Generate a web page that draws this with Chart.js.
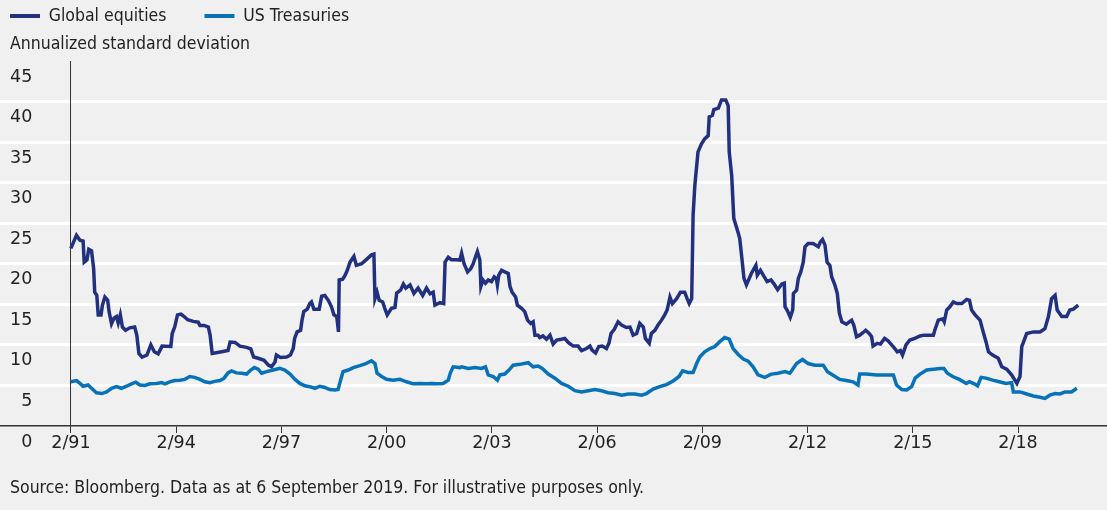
<!DOCTYPE html>
<html>
<head>
<meta charset="utf-8">
<script src="https://cdn.jsdelivr.net/npm/chart.js@4.4.1/dist/chart.umd.min.js"></script>
<style>
  html, body { margin: 0; padding: 0; background: #f0f0f0; }
  #wrap { width: 1107px; height: 510px; position: relative; }
</style>
</head>
<body>
<div id="wrap"><canvas id="c"></canvas></div>
<script>
// ---- Data ----
const seriesNames = ['Global equities', 'US Treasuries'];
const subtitleText = 'Annualized standard deviation';
const sourceText = 'Source: Bloomberg. Data as at 6 September 2019. For illustrative purposes only.';

const tickYears = [1991.083, 1994.083, 1997.083, 2000.083, 2003.083, 2006.083, 2009.083, 2012.083, 2015.083, 2018.083];
const tickLabels = ['2/91', '2/94', '2/97', '2/00', '2/03', '2/06', '2/09', '2/12', '2/15', '2/18'];

const eqYears = [
1991.08,1991.24,1991.34,1991.43,1991.46,1991.54,1991.59,1991.67,1991.73,1991.76,1991.82,1991.86,1991.94,1991.98,
1992.05,1992.13,1992.17,1992.24,1992.31,1992.38,1992.43,1992.49,1992.55,1992.64,1992.76,1992.90,1992.96,
1993.02,1993.11,1993.25,1993.36,1993.46,1993.57,1993.68,1993.93,1993.97,
1994.04,1994.12,1994.22,1994.31,1994.41,1994.57,1994.71,1994.76,1994.88,
1995.00,1995.05,1995.11,1995.38,1995.56,1995.62,1995.76,1995.90,
1996.09,1996.21,1996.29,1996.42,1996.59,1996.71,1996.80,1996.90,1996.94,
1997.06,1997.23,1997.34,1997.42,1997.46,1997.53,1997.63,1997.67,1997.72,1997.82,1997.89,1997.94,
1998.01,1998.16,1998.23,1998.32,1998.42,1998.51,1998.58,1998.66,1998.71,1998.73,1998.83,1998.90,1998.96,
1999.04,1999.15,1999.22,1999.37,1999.55,1999.65,1999.72,1999.75,1999.81,1999.87,1999.97,
2000.03,2000.10,2000.22,2000.32,2000.37,2000.48,2000.56,2000.63,2000.75,2000.86,2000.98,
2001.11,2001.22,2001.32,2001.41,2001.46,2001.60,2001.71,2001.75,2001.84,2001.93,
2002.08,2002.17,2002.22,2002.29,2002.39,2002.48,2002.55,2002.62,2002.67,2002.74,2002.77,2002.83,2002.90,2002.98,
2003.07,2003.15,2003.21,2003.24,2003.28,2003.36,2003.45,2003.55,2003.60,2003.66,2003.76,2003.81,2003.93,
2004.02,2004.10,2004.19,2004.26,2004.31,2004.40,2004.45,2004.54,2004.64,2004.74,2004.83,2004.93,
2005.07,2005.16,2005.26,2005.40,2005.54,2005.64,2005.78,2005.88,2005.94,
2006.04,2006.13,2006.23,2006.35,2006.42,2006.48,2006.57,2006.68,2006.78,2006.92,
2007.02,2007.11,2007.21,2007.30,2007.40,2007.46,2007.57,2007.63,2007.73,2007.82,2007.92,
2008.01,2008.08,2008.16,2008.23,2008.35,2008.46,2008.58,2008.65,2008.71,2008.78,2008.82,2008.87,2008.96,
2009.06,2009.15,2009.25,2009.28,2009.37,2009.41,2009.54,2009.63,2009.75,2009.82,2009.85,2009.92,2009.98,
2010.10,2010.15,2010.20,2010.27,2010.34,2010.48,2010.61,2010.65,2010.74,2010.82,2010.93,
2011.04,2011.13,2011.23,2011.35,2011.42,2011.44,2011.51,2011.59,2011.66,2011.68,2011.77,2011.82,2011.89,2011.96,
2012.01,2012.10,2012.24,2012.39,2012.45,2012.51,2012.58,2012.64,2012.72,2012.77,2012.86,2012.93,2012.99,
2013.06,2013.19,2013.34,2013.40,2013.48,2013.57,2013.66,2013.74,2013.84,2013.91,2013.95,
2014.07,2014.16,2014.28,2014.38,2014.48,2014.57,2014.64,2014.73,2014.79,2014.89,
2015.00,2015.14,2015.29,2015.40,2015.52,2015.67,2015.71,2015.81,2015.94,2015.98,
2016.05,2016.14,2016.24,2016.34,2016.48,2016.62,2016.70,2016.76,2016.86,
2017.00,2017.09,2017.17,2017.24,2017.36,2017.52,2017.62,2017.76,2017.90,
2018.05,2018.14,2018.19,2018.33,2018.52,2018.71,2018.85,2018.95,
2019.04,2019.14,2019.20,2019.33,2019.47,2019.56,2019.66,2019.80
];
const eqValues = [
21.9,23.5,22.9,22.8,20.2,20.5,21.8,21.6,19.4,16.5,16.1,13.7,13.7,14.9,
15.9,15.5,14.1,12.6,13.3,13.5,12.7,13.7,12.2,11.8,12.1,12.2,11.2,
8.95,8.5,8.75,10.0,9.15,8.9,9.85,9.8,11.4,
12.2,13.7,13.8,13.5,13.1,12.9,12.8,12.4,12.4,
12.2,11.2,8.95,9.15,9.3,10.35,10.3,9.85,
9.7,9.5,8.5,8.35,8.1,7.5,7.3,7.9,8.75,
8.45,8.5,8.75,9.55,10.8,11.6,11.8,13.05,14.1,14.4,15.1,15.3,
14.4,14.4,16.0,16.1,15.5,14.7,13.7,13.5,11.6,18.0,18.1,18.6,19.2,
20.2,20.9,19.8,20.0,20.7,21.1,21.2,15.7,16.5,15.5,15.3,
14.5,13.7,14.5,14.6,16.4,16.75,17.5,17.0,17.4,16.35,17.0,
16.1,17.0,16.3,16.5,14.9,15.2,15.1,20.2,20.8,20.5,
20.5,20.45,21.3,20.0,19.0,19.4,20.0,20.9,21.5,20.45,17.2,18.0,17.6,18.0,
17.8,18.4,18.2,17.4,18.6,19.2,19.0,18.8,17.2,16.5,15.9,14.9,14.5,
14.1,13.05,12.65,12.85,11.2,11.2,10.9,11.1,10.7,11.2,10.1,10.6,
10.7,10.8,10.3,9.85,9.85,9.3,9.55,9.85,9.35,
9.0,9.8,9.85,9.55,10.2,11.4,11.9,12.85,12.45,12.15,
12.2,11.2,11.4,12.65,12.2,10.8,10.2,11.4,11.8,12.45,13.05,
13.7,14.3,15.9,15.1,15.7,16.5,16.5,15.7,15.1,15.7,26.0,29.7,33.8,
34.8,35.4,35.8,38.1,38.3,39.0,39.2,40.2,40.2,39.5,33.8,30.9,25.6,
23.9,23.1,21.1,18.2,17.4,18.8,19.8,18.6,19.2,18.6,17.8,
18.0,17.5,16.8,17.5,17.6,14.7,14.2,13.4,14.3,16.35,16.75,18.2,19.0,20.2,
22.1,22.5,22.5,22.1,22.7,23.0,22.3,20.2,19.8,18.4,17.4,16.35,13.9,
12.85,12.55,13.05,12.45,11.0,11.2,11.5,11.8,11.4,11.0,9.85,
10.2,10.1,10.8,10.5,10.0,9.55,9.15,9.3,8.75,10.0,
10.6,10.8,11.1,11.2,11.2,11.2,11.8,13.05,13.2,12.85,
14.3,14.7,15.3,15.1,15.1,15.6,15.5,14.3,13.7,
13.05,11.6,10.4,9.15,8.75,8.35,7.3,7.0,6.3,
5.25,6.1,9.8,11.4,11.6,11.6,12.0,13.5,
15.7,16.1,14.3,13.5,13.5,14.3,14.4,14.9
];

const tsyYears = [
1991.08,1991.24,1991.34,1991.43,1991.57,1991.67,1991.81,1991.96,
1992.10,1992.24,1992.38,1992.52,1992.67,1992.81,1992.93,
1993.05,1993.19,1993.33,1993.52,1993.67,1993.76,1993.90,
1994.04,1994.19,1994.33,1994.47,1994.61,1994.76,1994.90,
1995.04,1995.18,1995.33,1995.45,1995.56,1995.66,1995.80,1995.95,
1996.09,1996.21,1996.31,1996.42,1996.52,1996.66,1996.85,
1997.04,1997.18,1997.33,1997.47,1997.61,1997.75,1997.89,
1998.04,1998.18,1998.32,1998.46,1998.61,1998.70,1998.77,1998.84,1998.99,
1999.13,1999.32,1999.49,1999.65,1999.75,1999.81,1999.94,
2000.08,2000.27,2000.46,2000.65,2000.84,
2001.03,2001.22,2001.36,2001.50,2001.69,2001.84,2001.90,2001.98,
2002.17,2002.22,2002.41,2002.60,2002.79,2002.90,2002.98,
2003.12,2003.24,2003.31,2003.45,2003.57,2003.69,2003.88,
2004.12,2004.26,2004.40,2004.52,2004.69,2004.88,
2005.07,2005.26,2005.45,2005.64,2005.83,
2006.02,2006.21,2006.40,2006.59,2006.78,2006.97,
2007.16,2007.35,2007.49,2007.68,2007.87,
2008.06,2008.25,2008.42,2008.52,2008.68,2008.82,2008.92,
2009.01,2009.15,2009.30,2009.44,2009.58,2009.72,2009.85,2009.96,
2010.10,2010.25,2010.39,2010.53,2010.67,2010.86,
2011.05,2011.24,2011.44,2011.58,2011.77,2011.94,
2012.10,2012.29,2012.53,2012.65,2012.80,
2013.00,2013.19,2013.38,2013.52,2013.57,2013.76,
2014.05,2014.34,2014.53,2014.62,2014.77,2014.91,
2015.05,2015.15,2015.29,2015.48,2015.67,2015.86,2015.97,
2016.07,2016.22,2016.41,2016.61,2016.70,2016.84,2016.93,
2017.03,2017.17,2017.36,2017.55,2017.74,2017.90,2017.95,
2018.14,2018.33,2018.52,2018.71,2018.85,2018.99,
2019.14,2019.28,2019.42,2019.61,2019.76
];
const tsyValues = [
5.45,5.6,5.25,4.9,5.05,4.65,4.1,4.0,
4.2,4.65,4.85,4.65,4.9,5.2,5.4,
5.05,5.0,5.2,5.25,5.35,5.2,5.45,
5.6,5.65,5.75,6.1,6.0,5.75,5.45,
5.35,5.5,5.6,5.9,6.55,6.8,6.55,6.5,
6.4,6.9,7.2,7.0,6.5,6.7,6.9,
7.1,6.9,6.4,5.75,5.25,4.95,4.85,
4.65,4.9,4.75,4.5,4.45,4.5,5.65,6.7,6.9,
7.2,7.45,7.7,8.05,7.7,6.5,6.1,
5.75,5.65,5.75,5.45,5.2,
5.25,5.2,5.25,5.2,5.25,5.65,6.55,7.3,
7.2,7.3,7.1,7.2,7.1,7.3,6.3,
6.1,5.65,6.3,6.4,6.9,7.5,7.6,
7.8,7.3,7.4,7.1,6.4,5.9,
5.25,4.9,4.35,4.2,4.35,
4.5,4.35,4.1,4.0,3.8,3.95,
3.95,3.8,4.0,4.55,4.85,
5.1,5.55,6.1,6.8,6.6,6.6,7.7,
8.5,9.15,9.55,9.8,10.4,10.9,10.7,9.55,
8.85,8.25,8.0,7.3,6.3,6.0,
6.4,6.5,6.7,6.5,7.7,8.2,
7.7,7.5,7.5,6.7,6.3,
5.75,5.6,5.45,5.05,6.4,6.4,
6.3,6.3,6.3,5.05,4.5,4.45,
4.85,5.9,6.4,6.9,7.0,7.1,7.1,
6.5,6.1,5.75,5.25,5.45,5.2,4.95,
6.0,5.9,5.65,5.45,5.25,5.35,4.2,
4.2,3.95,3.7,3.55,3.4,3.8,
4.0,3.95,4.2,4.2,4.65
];

// ---- Styles ----
const TEXT_FONT = '"DejaVu Sans Condensed", "DejaVu Sans", sans-serif';
const TICK_FONT = '"DejaVu Sans", sans-serif';
const FS = 17.5;
const TEXT = '#222222';
const EQ_COLOR = '#213180';
const TSY_COLOR = '#0872b9';
const Y_TICK_PAD = 10;            // mirrored y axis reserves 2*padding of width
const LEFT_PAD = -2 * Y_TICK_PAD; // so the plot area starts at the canvas edge
const LEGEND_PAD = 38;            // gap between legend items

const toPts = (xs, ys) => xs.map((x, i) => ({ x: x, y: ys[i] }));

// Place legend row / title texts near the left edge
const shiftPlugin = {
  id: 'shiftBoxes',
  afterLayout(chart) {
    const lg = chart.legend;
    if (lg) {
      const dx = (10 - LEGEND_PAD) - lg.left;
      lg.left += dx; lg.right += dx;
      lg.top = 16 - FS / 2 - LEGEND_PAD;   // keep bottom so the clip area still contains the row
    }
    chart.boxes.forEach(b => {
      if (b !== lg && b.options && typeof b.options.text === 'string') {
        b.left += 10 - LEFT_PAD; b.right += 10 - LEFT_PAD;
      }
    });
  }
};

Chart.defaults.font.family = TEXT_FONT;
Chart.defaults.font.size = FS;
Chart.defaults.color = TEXT;

new Chart(document.getElementById('c'), {
  type: 'line',
  data: {
    datasets: [
      {
        label: seriesNames[0],
        data: toPts(eqYears, eqValues),
        borderColor: EQ_COLOR, backgroundColor: EQ_COLOR,
        borderWidth: 3.5, pointRadius: 0, tension: 0, fill: false
      },
      {
        label: seriesNames[1],
        data: toPts(tsyYears, tsyValues),
        borderColor: TSY_COLOR, backgroundColor: TSY_COLOR,
        borderWidth: 3.5, pointRadius: 0, tension: 0, fill: false
      }
    ]
  },
  options: {
    responsive: true,
    maintainAspectRatio: false,
    animation: false,
    devicePixelRatio: 1,
    layout: { padding: { left: LEFT_PAD, right: 0, top: 0, bottom: 0 } },
    plugins: {
      legend: {
        position: 'top', align: 'start', maxHeight: 28,
        labels: {
          boxWidth: 30, boxHeight: 4, padding: LEGEND_PAD,
          color: TEXT, font: { size: FS, family: TEXT_FONT },
          generateLabels: (chart) => Chart.defaults.plugins.legend.labels.generateLabels(chart)
            .map(l => Object.assign(l, { lineWidth: 0 }))
        }
      },
      subtitle: {
        display: true, text: subtitleText, position: 'top', align: 'start',
        weight: 500, color: TEXT, font: { size: FS, weight: 'normal', family: TEXT_FONT },
        padding: { top: 5.5, bottom: 6.5 }
      },
      title: {
        display: true, text: sourceText, position: 'bottom', align: 'start',
        color: TEXT, font: { size: FS, weight: 'normal', family: TEXT_FONT },
        padding: { top: 23.5, bottom: 11.5 }
      },
      tooltip: { enabled: false }
    },
    scales: {
      x: {
        type: 'linear', min: 1989.06, max: 2020.62,
        afterBuildTicks: (scale) => { scale.ticks = tickYears.map(v => ({ value: v })); },
        ticks: {
          autoSkip: false, maxRotation: 0, padding: 0, color: TEXT,
          font: { size: FS, family: TICK_FONT },
          callback: (v, i) => tickLabels[i]
        },
        grid: { drawOnChartArea: false, drawTicks: true, tickLength: 7, tickColor: '#333333', tickWidth: 1 },
        border: { display: true, color: '#333333', width: 1.5 }
      },
      y: {
        position: 'left', min: 0, max: 45,
        ticks: {
          stepSize: 5, mirror: true, crossAlign: 'far', padding: Y_TICK_PAD, labelOffset: 16,
          color: TEXT, font: { size: FS, family: TICK_FONT }
        },
        grid: {
          drawTicks: false, lineWidth: 3,
          color: (ctx) => (ctx.tick && (ctx.tick.value === 0 || ctx.tick.value === 45)) ? 'rgba(0,0,0,0)' : '#ffffff'
        },
        border: { display: false }
      },
      y2: {
        position: { x: tickYears[0] }, min: 0, max: 45,
        ticks: { display: false },
        grid: { drawOnChartArea: false, drawTicks: false },
        border: { display: true, color: '#333333', width: 1 }
      }
    }
  },
  plugins: [shiftPlugin]
});
</script>
</body>
</html>
